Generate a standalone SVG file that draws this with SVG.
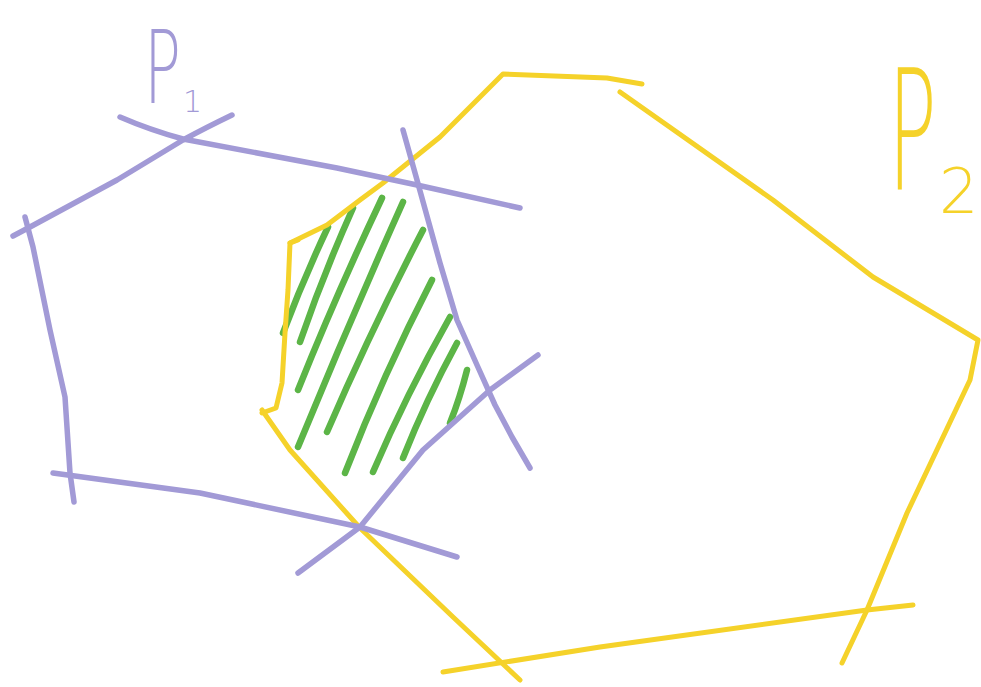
<svg xmlns="http://www.w3.org/2000/svg" width="981" height="687" viewBox="0 0 981 687">
  <style>
    .p1 { fill: none; stroke: #a29ad6; stroke-width: 5.5; stroke-linecap: round; stroke-linejoin: round; }
    .p2 { fill: none; stroke: #f5d22a; stroke-width: 5; stroke-linecap: round; stroke-linejoin: round; }
    .hatch { fill: none; stroke: #5cb547; stroke-width: 6.5; stroke-linecap: round; }
    .lab1 { fill: #a29ad6; font-family: "DejaVu Sans", "Liberation Sans", sans-serif; font-weight: 200; }
    .lab2 { fill: #f5d22a; font-family: "DejaVu Sans", "Liberation Sans", sans-serif; font-weight: 200; }
  </style>
  <rect width="981" height="687" fill="#ffffff"/>

  <g id="intersection">
    <path class="hatch" d="M328,227 Q303,280 283,333"/>
    <path class="hatch" d="M353,208 Q323,275 300,342"/>
    <path class="hatch" d="M382,198 Q336,295 298,390"/>
    <path class="hatch" d="M403,202 Q348,325 298,447"/>
    <path class="hatch" d="M423,230 Q371,330 327,432"/>
    <path class="hatch" d="M432,280 Q383,375 345,473"/>
    <path class="hatch" d="M450,317 Q406,395 373,472"/>
    <path class="hatch" d="M457,343 Q426,400 403,458"/>
    <path class="hatch" d="M467,370 Q460,398 450,423"/>
  </g>

  <g id="P2">
    <path class="p2" d="M298,240 L290,243 L288,290 L285,333 L282,383 L276,408 L262,413"/>
    <path class="p2" d="M290,243 L327,225 L360,200 L383,183 L440,137 L503,74 L607,78 L642,84"/>
    <path class="p2" d="M620,92 L773,200 L873,277 L978,340 L970,380 L907,513 L867,610 L842,663"/>
    <path class="p2" d="M443,672 L600,647 L867,610 L913,605"/>
    <path class="p2" d="M262,410 L290,450 L360,528 L453,617 L520,680"/>
  </g>

  <g id="P1">
    <path class="p1" d="M232,115 Q205,128 183,140 L117,180 L30,227 L13,236"/>
    <path class="p1" d="M120,117 Q150,130 183,139 L337,168 L417,185 L520,208"/>
    <path class="p1" d="M25,217 L33,247 L50,330 L65,397 L70,473 L74,502"/>
    <path class="p1" d="M53,473 L200,493 L360,527 L457,557"/>
    <path class="p1" d="M403,130 L417,180 L440,263 L457,320 L477,365 L495,405 L512,437 L530,468"/>
    <path class="p1" d="M298,573 L360,527 L423,450 L490,390 L538,355"/>
  </g>

  <g id="label-P1">
    <text class="lab1" transform="translate(144,103) scale(0.6,1)" font-size="102">P</text>
    <text class="lab1" x="183" y="112" font-size="30">1</text>
  </g>
  <g id="label-P2">
    <text class="lab2" transform="translate(888,190) scale(0.48,1)" font-size="168">P</text>
    <text class="lab2" x="939" y="213" font-size="62">2</text>
  </g>
</svg>
